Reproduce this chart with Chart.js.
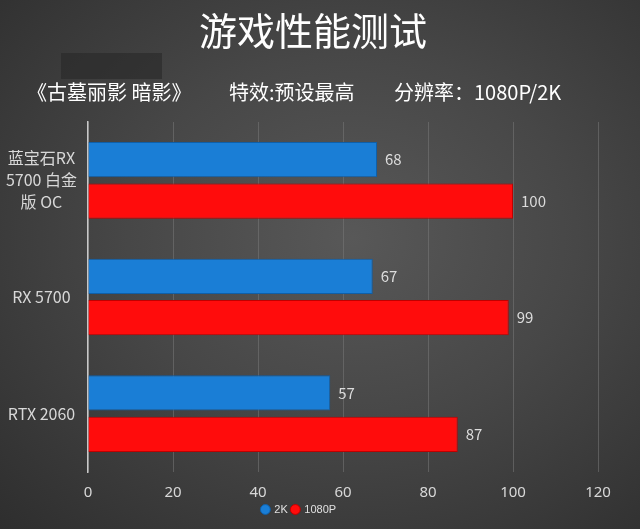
<!DOCTYPE html>
<html><head><meta charset="utf-8">
<script src="https://cdn.jsdelivr.net/npm/chart.js@4"></script>
<style>
html,body{margin:0;padding:0;}
#wrap{width:640px;height:529px;background:radial-gradient(ellipse at 55% 45%, #585858 0%, #474747 45%, #2e2e2e 100%);position:relative;}
</style></head>
<body><div id="wrap"><canvas id="c" width="640" height="529"></canvas></div>
<script>
const titleText = "游戏性能测试";
const subtitleParts = ["《古墓丽影 暗影》", "特效:预设最高", "分辨率：1080P/2K"];
const categories = [["蓝宝石RX","5700 白金","版 OC"], "RX 5700", "RTX 2060"];
const series2K = [68, 67, 57];
const series1080P = [100, 99, 87];
const seriesNames = ["2K", "1080P"];
const xTicks = [0, 20, 40, 60, 80, 100, 120];

const valueLabels = {
  id: 'valueLabels',
  afterDatasetsDraw(chart) {
    const ctx = chart.ctx;
    ctx.save();
    ctx.font = '15px "Noto Sans CJK SC", "Noto Sans", sans-serif';
    ctx.fillStyle = '#dcdcdc';
    ctx.textBaseline = 'middle';
    ctx.textAlign = 'left';
    chart.data.datasets.forEach((ds, i) => {
      chart.getDatasetMeta(i).data.forEach((bar, j) => {
        ctx.fillText(String(ds.data[j]), bar.x + 8, bar.y);
      });
    });
    ctx.restore();
  }
};
const headings = {
  id: 'headings',
  beforeDraw(chart) {
    const ctx = chart.ctx;
    ctx.save();
    ctx.fillStyle = 'rgba(40,40,40,0.6)';
    ctx.fillRect(61, 53, 101, 26);
    ctx.fillStyle = '#ffffff';
    ctx.textBaseline = 'middle';
    ctx.textAlign = 'center';
    ctx.font = '38px "Noto Sans CJK SC", sans-serif';
    ctx.fillText(titleText, 313, 31);
    ctx.textAlign = 'left';
    ctx.font = '20px "Noto Sans CJK SC", sans-serif';
    const xs = [27, 229, 394];
    subtitleParts.forEach((t, i) => ctx.fillText(t, xs[i], 92));
    ctx.restore();
  }
};

new Chart(document.getElementById('c'), {
  type: 'bar',
  data: {
    labels: categories,
    datasets: [
      { label: seriesNames[0], data: series2K, backgroundColor: '#1a7ed6', borderColor: '#0f5fa8', borderWidth: 1,
        categoryPercentage: 0.71, barPercentage: 0.85 },
      { label: seriesNames[1], data: series1080P, backgroundColor: '#ff0c0c', borderColor: '#c00000', borderWidth: 1,
        categoryPercentage: 0.71, barPercentage: 0.85 }
    ]
  },
  options: {
    indexAxis: 'y',
    responsive: false,
    animation: false,
    layout: { padding: { left: 0, right: 42, top: 122, bottom: 4 } },
    scales: {
      x: {
        min: 0, max: 120,
        afterBuildTicks(scale) { scale.ticks = xTicks.map(v => ({ value: v })); },
        afterFit(scale) { scale.height = 28; },
        ticks: { color: '#d8d8d8', font: { size: 15, family: '"Noto Sans", sans-serif' }, padding: 12 },
        grid: { color: 'rgba(120,120,120,0.55)', drawTicks: false },
        border: { display: false }
      },
      y: {
        afterFit(scale) { scale.width = 88; },
        ticks: { color: '#d8d8d8', crossAlign: 'center', font: { size: 16, family: '"Noto Sans CJK SC", sans-serif', lineHeight: 1.38 }, padding: 11 },
        grid: { display: false, drawTicks: false },
        border: { display: true, color: '#c8c8c8', width: 1.5 }
      }
    },
    plugins: {
      title: { display: false },
      legend: { position: 'bottom',
        labels: { color: '#e0e0e0', font: { size: 11 }, usePointStyle: true, pointStyle: 'circle', boxWidth: 7, boxHeight: 7, padding: 4 } },
      tooltip: { enabled: false }
    }
  },
  plugins: [headings, valueLabels]
});
</script></body></html>
